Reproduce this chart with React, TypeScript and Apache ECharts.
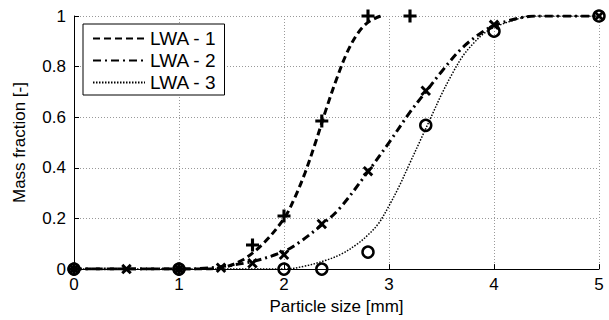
import React, { useEffect, useRef } from "react";
import * as echarts from "echarts";

// Measured points (markers)
const lwa1Points: [number, number][] = [[0, 0], [1, 0], [1.7, 0.095], [2.0, 0.21], [2.36, 0.585], [2.8, 1.0], [3.2, 1.0]];
const lwa2Points: [number, number][] = [[0, 0], [0.5, 0], [1, 0], [1.4, 0.005], [1.7, 0.023], [2.0, 0.057], [2.36, 0.178], [2.8, 0.387], [3.35, 0.705], [4.0, 0.965], [5, 1.0]];
const lwa3Points: [number, number][] = [[0, 0], [1, 0], [2.0, 0], [2.36, 0], [2.8, 0.067], [3.35, 0.568], [4.0, 0.94], [5, 1.0]];

// Fitted curves
const lwa1CurveX = [0, 1, 1.2, 1.4, 1.6, 1.8, 2.0, 2.1, 2.2, 2.3, 2.4, 2.5, 2.6, 2.7, 2.8, 2.92];
const lwa1CurveY = [0, 0, 0, 0.005, 0.035, 0.1, 0.2, 0.28, 0.38, 0.5, 0.63, 0.75, 0.855, 0.93, 0.975, 1.0];
const lwa2CurveX = [0, 1, 1.2, 1.4, 1.7, 2.0, 2.15, 2.36, 2.53, 2.8, 3.0, 3.2, 3.35, 3.5, 3.7, 3.9, 4.0, 4.2, 4.4, 5];
const lwa2CurveY = [0, 0, 0.002, 0.01, 0.03, 0.07, 0.107, 0.175, 0.24, 0.385, 0.5, 0.62, 0.7, 0.78, 0.875, 0.94, 0.962, 0.988, 1.0, 1.0];
const lwa3CurveX = [0, 1, 2.0, 2.2, 2.4, 2.55, 2.7, 2.8, 2.9, 3.0, 3.1, 3.2, 3.3, 3.4, 3.5, 3.6, 3.7, 3.8, 3.9, 4.0, 4.2, 4.35, 5];
const lwa3CurveY = [0, 0, 0, 0.012, 0.035, 0.06, 0.1, 0.135, 0.18, 0.25, 0.33, 0.42, 0.51, 0.6, 0.69, 0.77, 0.84, 0.89, 0.93, 0.955, 0.985, 1.0, 1.0];

const seriesNames = ["LWA - 1", "LWA - 2", "LWA - 3"];
const xTitle = "Particle size [mm]";
const yTitle = "Mass fraction [-]";

const zip = (xs: number[], ys: number[]) => xs.map((x, i) => [x, ys[i]]);

const PLUS = "path://M3.8,0 L6.2,0 L6.2,3.8 L10,3.8 L10,6.2 L6.2,6.2 L6.2,10 L3.8,10 L3.8,6.2 L0,6.2 L0,3.8 L3.8,3.8 Z";
const FONT = "Liberation Sans, Arial, sans-serif";

export default function App() {
  const ref = useRef<HTMLDivElement>(null);
  useEffect(() => {
    document.body.style.margin = "0";
    const chart = echarts.init(ref.current!, null, { renderer: "svg" });
    const lineCommon = {
      type: "line", smooth: 0.35, symbol: "none", z: 3,
      itemStyle: { color: "#000" },
    };
    chart.setOption({
      animation: false,
      backgroundColor: "#fff",
      grid: { left: 74, right: 10, top: 16, bottom: 48 },
      xAxis: {
        type: "value", min: 0, max: 5, interval: 1,
        name: xTitle, nameLocation: "middle", nameGap: 27,
        nameTextStyle: { fontFamily: FONT, fontSize: 17, color: "#000" },
        axisLine: { show: true, onZero: false, lineStyle: { color: "#000", width: 1 } },
        axisTick: { show: true, inside: true, length: 5, lineStyle: { color: "#000" } },
        axisLabel: { fontFamily: FONT, fontSize: 17, color: "#000", margin: 7 },
        splitLine: { show: true, lineStyle: { color: "#999", type: [1, 2], width: 1 } },
      },
      yAxis: {
        type: "value", min: 0, max: 1, interval: 0.2,
        name: yTitle, nameLocation: "middle", nameGap: 46,
        nameTextStyle: { fontFamily: FONT, fontSize: 17, color: "#000" },
        axisLine: { show: true, onZero: false, lineStyle: { color: "#000", width: 1 } },
        axisTick: { show: true, inside: true, length: 5, lineStyle: { color: "#000" } },
        axisLabel: { fontFamily: FONT, fontSize: 17, color: "#000", margin: 8 },
        splitLine: { show: true, lineStyle: { color: "#999", type: [1, 2], width: 1 } },
      },
      legend: {
        data: seriesNames,
        orient: "vertical",
        left: 83, top: 24,
        itemWidth: 52, itemHeight: 10, itemGap: 3,
        padding: [5, 8, 3, 9],
        borderColor: "#000", borderWidth: 1,
        backgroundColor: "#fff",
        itemStyle: { opacity: 0 },
        textStyle: { fontFamily: FONT, fontSize: 19, color: "#000" },
      },
      series: [
        {
          ...lineCommon, name: seriesNames[0], data: zip(lwa1CurveX, lwa1CurveY),
          lineStyle: { color: "#000", width: 3, type: [7, 4] },
        },
        {
          ...lineCommon, name: seriesNames[1], data: zip(lwa2CurveX, lwa2CurveY),
          lineStyle: { color: "#000", width: 3, type: [8, 4, 2, 4] },
        },
        {
          ...lineCommon, name: seriesNames[2], data: zip(lwa3CurveX, lwa3CurveY),
          lineStyle: { color: "#000", width: 1.5, type: [1.5, 1.5] },
        },
        {
          name: "LWA - 1 data", type: "scatter", data: lwa1Points, symbol: PLUS, symbolSize: 13,
          itemStyle: { color: "#000", opacity: 1 }, clip: false, z: 4,
        },
        {
          name: "LWA - 2 data", type: "scatter", data: lwa2Points, symbol: PLUS, symbolSize: 12, symbolRotate: 45,
          itemStyle: { color: "#000", opacity: 1 }, clip: false, z: 4,
        },
        {
          name: "LWA - 3 data", type: "scatter", data: lwa3Points, symbol: "circle", symbolSize: 11,
          itemStyle: { color: "rgba(0,0,0,0)", borderColor: "#000", borderWidth: 2.5, opacity: 1 }, clip: false, z: 4,
        },
      ],
    });
    return () => chart.dispose();
  }, []);
  return <div ref={ref} style={{ width: 609, height: 320 }} />;
}
